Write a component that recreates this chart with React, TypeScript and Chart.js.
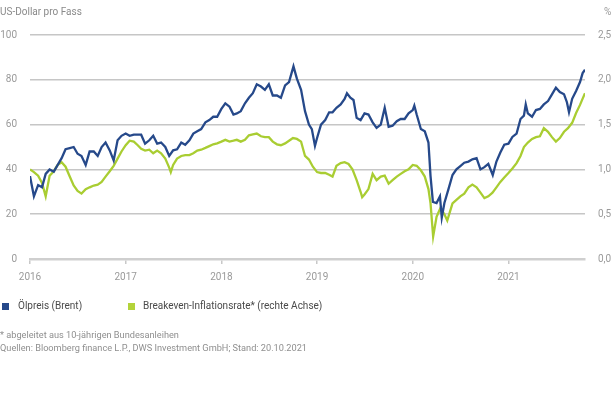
import React, { useEffect, useRef } from "react";
import { Chart, registerables } from "chart.js";

Chart.register(...registerables);

const yearTicks = [2016, 2017, 2018, 2019, 2020, 2021];
const leftTicks = [0, 20, 40, 60, 80, 100];
const rightTicks = [0, 0.5, 1, 1.5, 2, 2.5];

const oilDates = [
  "2016-01-01","2016-01-16","2016-02-01","2016-02-16","2016-03-01","2016-03-16","2016-04-01","2016-04-16",
  "2016-05-01","2016-05-16","2016-06-01","2016-06-16","2016-07-01","2016-07-16","2016-08-01","2016-08-16",
  "2016-09-01","2016-09-16","2016-10-01","2016-10-16","2016-11-01","2016-11-16","2016-12-01","2016-12-16",
  "2017-01-01","2017-01-16","2017-02-01","2017-02-16","2017-03-01","2017-03-16","2017-04-01","2017-04-16",
  "2017-05-01","2017-05-16","2017-06-01","2017-06-16","2017-07-01","2017-07-16","2017-08-01","2017-08-16",
  "2017-09-01","2017-09-16","2017-10-01","2017-10-16","2017-11-01","2017-11-16","2017-12-01","2017-12-16",
  "2018-01-01","2018-01-16","2018-02-01","2018-02-16","2018-03-01","2018-03-16","2018-04-01","2018-04-16",
  "2018-05-01","2018-05-16","2018-06-01","2018-06-16","2018-07-01","2018-07-16","2018-08-01","2018-08-16",
  "2018-09-01","2018-09-16","2018-10-03","2018-10-16","2018-11-01","2018-11-16","2018-12-01","2018-12-12",
  "2018-12-24","2019-01-01","2019-01-16","2019-02-01","2019-02-16","2019-03-01","2019-03-16","2019-04-01",
  "2019-04-16","2019-04-25","2019-05-08","2019-05-20","2019-06-01","2019-06-16","2019-07-01","2019-07-16",
  "2019-08-01","2019-08-16","2019-09-01","2019-09-16","2019-10-01","2019-10-16","2019-11-01","2019-11-16",
  "2019-12-01","2019-12-16","2020-01-01","2020-01-07","2020-01-16","2020-02-01","2020-02-16","2020-03-01",
  "2020-03-09","2020-03-18","2020-04-01","2020-04-14","2020-04-21","2020-05-01","2020-05-16","2020-06-01",
  "2020-06-16","2020-07-01","2020-07-16","2020-08-01","2020-08-16","2020-09-01","2020-09-16","2020-10-01",
  "2020-10-16","2020-11-02","2020-11-16","2020-12-01","2020-12-16","2021-01-01","2021-01-16","2021-02-01",
  "2021-02-16","2021-03-01","2021-03-08","2021-03-16","2021-04-01","2021-04-16","2021-05-01","2021-05-16",
  "2021-06-01","2021-06-16","2021-07-01","2021-07-16","2021-08-01","2021-08-12","2021-08-20","2021-09-01",
  "2021-09-16","2021-10-01","2021-10-11","2021-10-20",
];
const oilValues = [
  37, 28, 33, 32, 38, 40, 39, 42,
  45, 49, 49.5, 50, 47, 46, 42, 48,
  48, 46, 50, 52, 48.5, 44, 53, 55,
  56, 55, 55.5, 55.5, 55.5, 51.5, 53, 55,
  51.5, 52, 50, 46, 48.5, 49, 52, 51,
  53, 56, 57, 58, 61, 62, 63.5, 63.5,
  67, 69.5, 68, 64.5, 65, 66, 69.5, 72,
  74, 78, 77, 75.5, 78, 73, 73, 72,
  77.5, 79, 86, 80.5, 75.5, 66, 60, 58,
  50.5, 54, 60, 62, 65.5, 65.5, 67.5, 69,
  71.5, 74, 72, 71, 63, 62, 65, 64.5,
  61, 58.5, 60, 67.5, 59, 59.5, 61.5, 62.5,
  62.5, 65, 66.5, 68.5, 64.5, 58, 57, 52,
  37, 25.5, 25, 28, 18.5, 25, 31, 37.5,
  40, 41.5, 43, 43.5, 44.5, 45, 40, 41,
  42.5, 37.5, 43.5, 47.5, 51, 51.5, 54.5, 56,
  62.5, 64, 69, 65, 63.5, 66.5, 67, 69,
  70.5, 73.5, 76.5, 74.5, 73.5, 70, 65.5, 71.5,
  75, 79, 83, 84.5,
];

const beiDates = [
  "2016-01-01","2016-01-16","2016-02-01","2016-02-16","2016-03-01","2016-03-16","2016-04-01","2016-04-16",
  "2016-05-01","2016-05-16","2016-06-01","2016-06-16","2016-07-01","2016-07-16","2016-08-01","2016-08-16",
  "2016-09-01","2016-09-16","2016-10-01","2016-10-16","2016-11-01","2016-11-16","2016-12-01","2016-12-16",
  "2017-01-01","2017-01-16","2017-02-01","2017-02-16","2017-03-01","2017-03-16","2017-04-01","2017-04-16",
  "2017-05-01","2017-05-16","2017-06-01","2017-06-16","2017-06-22","2017-07-01","2017-07-16","2017-08-01",
  "2017-08-16","2017-09-01","2017-09-16","2017-10-01","2017-10-16","2017-11-01","2017-11-16","2017-12-01",
  "2017-12-16","2018-01-01","2018-01-16","2018-02-01","2018-02-16","2018-03-01","2018-03-16","2018-04-01",
  "2018-04-16","2018-05-01","2018-05-16","2018-06-01","2018-06-16","2018-07-01","2018-07-16","2018-08-01",
  "2018-08-16","2018-09-01","2018-09-16","2018-10-01","2018-10-16","2018-11-01","2018-11-16","2018-12-01",
  "2018-12-16","2019-01-01","2019-01-16","2019-02-01","2019-02-16","2019-03-01","2019-03-16","2019-04-01",
  "2019-04-16","2019-05-01","2019-05-16","2019-06-01","2019-06-16","2019-06-22","2019-07-01","2019-07-16",
  "2019-08-01","2019-08-16","2019-09-01","2019-09-16","2019-10-01","2019-10-16","2019-11-01","2019-11-16",
  "2019-12-01","2019-12-16","2020-01-01","2020-01-16","2020-02-01","2020-02-16","2020-03-01","2020-03-09",
  "2020-03-19","2020-04-01","2020-04-16","2020-05-01","2020-05-12","2020-06-01","2020-06-16","2020-07-01",
  "2020-07-16","2020-08-01","2020-08-16","2020-09-01","2020-09-16","2020-10-01","2020-10-16","2020-11-01",
  "2020-11-16","2020-12-01","2020-12-16","2021-01-01","2021-01-16","2021-02-01","2021-02-16","2021-03-01",
  "2021-03-16","2021-04-01","2021-04-16","2021-05-01","2021-05-16","2021-06-01","2021-06-16","2021-07-01",
  "2021-07-16","2021-08-01","2021-08-16","2021-09-01","2021-09-16","2021-10-01","2021-10-11","2021-10-20",
];
const beiValues = [
  1.0, 0.97, 0.93, 0.85, 0.7, 0.93, 0.98, 1.05,
  1.08, 1.03, 0.92, 0.82, 0.76, 0.73, 0.78, 0.8,
  0.82, 0.83, 0.86, 0.92, 0.98, 1.04, 1.12, 1.2,
  1.27, 1.32, 1.31, 1.27, 1.23, 1.21, 1.22, 1.18,
  1.21, 1.18, 1.12, 1.02, 0.97, 1.05, 1.12, 1.15,
  1.16, 1.16, 1.18, 1.21, 1.22, 1.24, 1.26, 1.28,
  1.29, 1.31, 1.33, 1.31, 1.32, 1.33, 1.31, 1.33,
  1.38, 1.39, 1.4, 1.37, 1.36, 1.36, 1.31, 1.28,
  1.27, 1.29, 1.32, 1.35, 1.34, 1.31, 1.15, 1.11,
  1.03, 0.97, 0.96, 0.96, 0.94, 0.92, 1.04, 1.07,
  1.08, 1.06, 1.0, 0.88, 0.75, 0.69, 0.72, 0.78,
  0.95, 0.88, 0.92, 0.93, 0.84, 0.88, 0.92, 0.95,
  0.98, 1.0, 1.05, 1.04, 0.99, 0.92, 0.78, 0.62,
  0.25, 0.47, 0.57, 0.5, 0.43, 0.62, 0.66, 0.7,
  0.73, 0.8, 0.83, 0.8, 0.74, 0.68, 0.7, 0.74,
  0.8, 0.86, 0.91, 0.96, 1.01, 1.07, 1.15, 1.25,
  1.3, 1.34, 1.36, 1.37, 1.46, 1.42, 1.36, 1.31,
  1.35, 1.42, 1.46, 1.52, 1.63, 1.72, 1.79, 1.85,
];

const title = "US-Dollar pro Fass";
const rightUnit = "%";
const oilLabel = "Ölpreis (Brent)";
const beiLabel = "Breakeven-Inflationsrate* (rechte Achse)";
const footnote1 = "* abgeleitet aus 10-jährigen Bundesanleihen";
const footnote2 = "Quellen: Bloomberg finance L.P., DWS Investment GmbH; Stand: 20.10.2021";

const BLUE = "#26498a";
const GREEN = "#a9cd32";
const FONT = "Roboto, 'Liberation Sans', sans-serif";

function toYear(s: string): number {
  const [y, m, d] = s.split("-").map(Number);
  const start = Date.UTC(y, 0, 1);
  const end = Date.UTC(y + 1, 0, 1);
  return y + (Date.UTC(y, m - 1, d) - start) / (end - start);
}

export default function App() {
  const ref = useRef<HTMLCanvasElement | null>(null);

  useEffect(() => {
    document.body.style.margin = "0";
    const canvas = ref.current;
    if (!canvas) return;
    const oilData = oilDates.map((d, i) => ({ x: toYear(d), y: oilValues[i] }));
    const beiData = beiDates.map((d, i) => ({ x: toYear(d), y: beiValues[i] }));
    const xMax = toYear(oilDates[oilDates.length - 1]);

    const chart = new Chart(canvas, {
      type: "line",
      data: {
        datasets: [
          {
            label: oilLabel,
            data: oilData,
            borderColor: BLUE,
            backgroundColor: BLUE,
            borderWidth: 2.3,
            pointRadius: 0,
            tension: 0,
            yAxisID: "y",
          },
          {
            label: beiLabel,
            data: beiData,
            borderColor: GREEN,
            backgroundColor: GREEN,
            borderWidth: 2.3,
            pointRadius: 0,
            tension: 0,
            yAxisID: "y2",
          },
        ],
      },
      options: {
        animation: false,
        responsive: false,
        devicePixelRatio: 1,
        layout: { padding: { top: 35, bottom: 126, left: 0, right: 0 } },
        plugins: { legend: { display: false }, tooltip: { enabled: false } },
        scales: {
          x: {
            type: "linear",
            min: 2016,
            max: xMax,
            afterBuildTicks: (scale: any) => {
              scale.ticks = yearTicks.map((v) => ({ value: v }));
            },
            afterFit: (scale: any) => {
              scale.height = 25;
            },
            ticks: {
              color: "#9a9a9a",
              font: { family: FONT, size: 10 },
              padding: 7,
              maxRotation: 0,
              autoSkip: false,
              callback: (v: any) => String(v),
            },
            grid: {
              drawOnChartArea: false,
              drawTicks: true,
              tickLength: 5,
              color: "#c8c8c8",
              lineWidth: 1.5,
            },
            border: { display: true, color: "#cfcfcf", width: 2.5 },
          },
          y: {
            position: "left",
            min: 0,
            max: 100,
            afterBuildTicks: (scale: any) => {
              scale.ticks = leftTicks.map((v) => ({ value: v }));
            },
            afterFit: (scale: any) => {
              scale.width = 30;
            },
            ticks: {
              color: "#9a9a9a",
              font: { family: FONT, size: 10 },
              padding: 13,
            },
            grid: { color: "#c6c6c6", lineWidth: 1.5, drawTicks: false },
            border: { display: false },
          },
          y2: {
            position: "right",
            min: 0,
            max: 2.5,
            afterBuildTicks: (scale: any) => {
              scale.ticks = rightTicks.map((v) => ({ value: v }));
            },
            afterFit: (scale: any) => {
              scale.width = 30;
            },
            ticks: {
              color: "#9a9a9a",
              font: { family: FONT, size: 10 },
              padding: 13,
              callback: (v: any) => Number(v).toFixed(1).replace(".", ","),
            },
            grid: { display: false, drawTicks: false },
            border: { display: false },
          },
        },
      },
    });
    return () => chart.destroy();
  }, []);

  const textBase: React.CSSProperties = {
    position: "absolute",
    fontFamily: FONT,
    whiteSpace: "nowrap",
    lineHeight: "1",
  };

  return (
    <div style={{ position: "relative", width: 615, height: 410, background: "#fff", overflow: "hidden" }}>
      <canvas ref={ref} width={615} height={410} style={{ position: "absolute", left: 0, top: 0 }} />
      <div style={{ ...textBase, left: 0, top: 7, fontSize: 10, color: "#8a8a8a" }}>{title}</div>
      <div style={{ ...textBase, left: 604, top: 7, fontSize: 10, color: "#9a9a9a" }}>{rightUnit}</div>
      <div style={{ ...textBase, left: 0, top: 301, fontSize: 10, color: "#4a4a4a", display: "flex", alignItems: "center" }}>
        <span style={{ display: "inline-block", width: 7, height: 7, background: BLUE, marginLeft: 2, marginRight: 9 }} />
        <span>{oilLabel}</span>
      </div>
      <div style={{ ...textBase, left: 128, top: 301, fontSize: 10, color: "#4a4a4a", display: "flex", alignItems: "center" }}>
        <span style={{ display: "inline-block", width: 7, height: 7, background: "#b3d33a", marginRight: 8 }} />
        <span>{beiLabel}</span>
      </div>
      <div style={{ ...textBase, left: 0, top: 330, fontSize: 9.2, color: "#8f8f8f" }}>{footnote1}</div>
      <div style={{ ...textBase, left: 0, top: 343, fontSize: 9.2, color: "#8f8f8f" }}>{footnote2}</div>
    </div>
  );
}
